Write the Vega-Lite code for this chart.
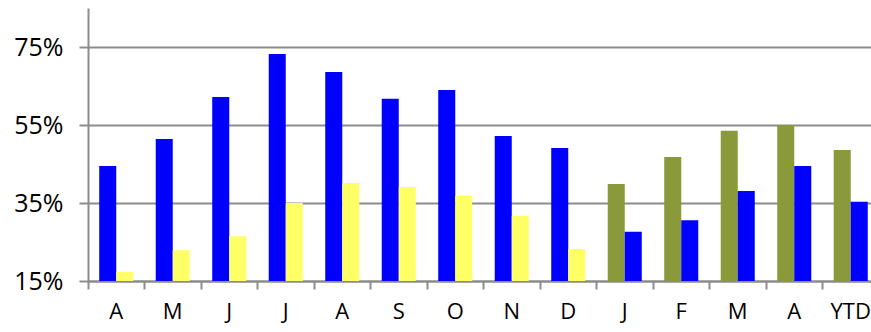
{
  "$schema": "https://vega.github.io/schema/vega-lite/v6.json",
  "autosize": "none",
  "width": 791,
  "height": 273,
  "padding": {"left": 88, "top": 8, "right": 0, "bottom": 51},
  "background": "white",
  "config": {"view": {"stroke": null}},
  "data": {"values": [
    {"period": "Apr 13", "pos": "L", "series": "blue", "rate": 0.445},
    {"period": "Apr 13", "pos": "R", "series": "yellow", "rate": 0.173},
    {"period": "May 13", "pos": "L", "series": "blue", "rate": 0.514},
    {"period": "May 13", "pos": "R", "series": "yellow", "rate": 0.229},
    {"period": "Jun 13", "pos": "L", "series": "blue", "rate": 0.622},
    {"period": "Jun 13", "pos": "R", "series": "yellow", "rate": 0.265},
    {"period": "Jul 13", "pos": "L", "series": "blue", "rate": 0.732},
    {"period": "Jul 13", "pos": "R", "series": "yellow", "rate": 0.350},
    {"period": "Aug 13", "pos": "L", "series": "blue", "rate": 0.686},
    {"period": "Aug 13", "pos": "R", "series": "yellow", "rate": 0.401},
    {"period": "Sep 13", "pos": "L", "series": "blue", "rate": 0.617},
    {"period": "Sep 13", "pos": "R", "series": "yellow", "rate": 0.391},
    {"period": "Oct 13", "pos": "L", "series": "blue", "rate": 0.640},
    {"period": "Oct 13", "pos": "R", "series": "yellow", "rate": 0.368},
    {"period": "Nov 13", "pos": "L", "series": "blue", "rate": 0.522},
    {"period": "Nov 13", "pos": "R", "series": "yellow", "rate": 0.317},
    {"period": "Dec 13", "pos": "L", "series": "blue", "rate": 0.491},
    {"period": "Dec 13", "pos": "R", "series": "yellow", "rate": 0.232},
    {"period": "Jan 14", "pos": "L", "series": "olive", "rate": 0.399},
    {"period": "Jan 14", "pos": "R", "series": "blue", "rate": 0.276},
    {"period": "Feb 14", "pos": "L", "series": "olive", "rate": 0.468},
    {"period": "Feb 14", "pos": "R", "series": "blue", "rate": 0.306},
    {"period": "Mar 14", "pos": "L", "series": "olive", "rate": 0.535},
    {"period": "Mar 14", "pos": "R", "series": "blue", "rate": 0.381},
    {"period": "Apr 14", "pos": "L", "series": "olive", "rate": 0.550},
    {"period": "Apr 14", "pos": "R", "series": "blue", "rate": 0.445},
    {"period": "YTD", "pos": "L", "series": "olive", "rate": 0.486},
    {"period": "YTD", "pos": "R", "series": "blue", "rate": 0.353}
  ]},
  "mark": {"type": "bar", "clip": true},
  "encoding": {
    "x": {
      "field": "period",
      "type": "nominal",
      "sort": null,
      "scale": {"paddingInner": 0, "paddingOuter": 0},
      "axis": {
        "title": null,
        "bandPosition": 0,
        "labelAngle": 0,
        "labelExpr": "datum.value == 'YTD' ? 'YTD' : substring(datum.value, 0, 1)",
        "labelFont": "Open Sans",
        "labelFontSize": 22,
        "labelColor": "#000000",
        "labelPadding": 12,
        "labelBaseline": "top",
        "labelOverlap": false,
        "domainColor": "#8c8c8c",
        "domainWidth": 2,
        "tickColor": "#8c8c8c",
        "tickWidth": 2,
        "tickSize": 8,
        "grid": false
      }
    },
    "xOffset": {
      "field": "pos",
      "type": "nominal",
      "sort": ["L", "R"],
      "scale": {"paddingInner": 0, "paddingOuter": 0.66}
    },
    "y": {
      "field": "rate",
      "type": "quantitative",
      "scale": {"domain": [0.15, 0.85], "nice": false, "zero": false},
      "axis": {
        "title": null,
        "values": [0.15, 0.35, 0.55, 0.75],
        "format": ".0%",
        "labelFont": "Open Sans",
        "labelFontSize": 25,
        "labelColor": "#000000",
        "labelPadding": 16,
        "domainColor": "#8c8c8c",
        "domainWidth": 2,
        "tickColor": "#8c8c8c",
        "tickWidth": 2,
        "tickSize": 9,
        "grid": true,
        "gridColor": "#8c8c8c",
        "gridWidth": 2
      }
    },
    "color": {
      "field": "series",
      "type": "nominal",
      "scale": {"domain": ["blue", "yellow", "olive"], "range": ["#0000FF", "#FFFF66", "#8A993A"]},
      "legend": null
    }
  }
}
